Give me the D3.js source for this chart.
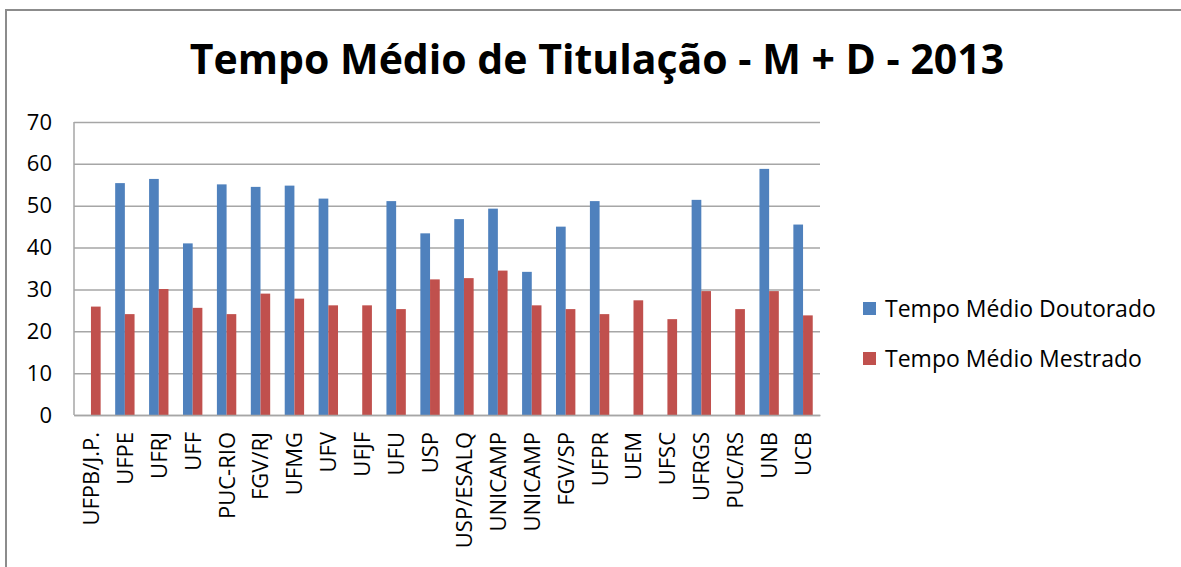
<!DOCTYPE html>
<html>
<head>
<meta charset="utf-8">
<script src="https://cdn.jsdelivr.net/npm/d3@7"></script>
<style>
  body { margin: 0; background: #fff; }
  svg { display: block; font-family: "Open Sans", sans-serif; }
</style>
</head>
<body>
<div id="chart"></div>
<script>
const categories = ["UFPB/J.P.", "UFPE", "UFRJ", "UFF", "PUC-RIO", "FGV/RJ", "UFMG", "UFV", "UFJF", "UFU", "USP",
    "USP/ESALQ", "UNICAMP", "UNICAMP", "FGV/SP", "UFPR", "UEM", "UFSC", "UFRGS", "PUC/RS", "UNB", "UCB"];
const doutorado = [null, 55.4, 56.4, 41.0, 55.1, 54.5, 54.8, 51.7, null, 51.1, 43.4,
    46.8, 49.3, 34.2, 45.0, 51.1, null, null, 51.4, null, 58.8, 45.5];
const mestrado = [25.9, 24.1, 30.1, 25.6, 24.1, 29.0, 27.8, 26.2, 26.2, 25.3, 32.4,
    32.7, 34.5, 26.2, 25.3, 24.1, 27.4, 22.9, 29.6, 25.3, 29.6, 23.8];
const seriesNames = ["Tempo Médio Doutorado", "Tempo Médio Mestrado"];
const yTicks = [0, 10, 20, 30, 40, 50, 60, 70];

const width = 1181, height = 567;
const colors = ["#4f81bd", "#c0504d"];
const plot = { left: 74, right: 820, top: 122, bottom: 415 };

const svg = d3.select("#chart").append("svg")
    .attr("width", width)
    .attr("height", height);

// outer chart frame
svg.append("path")
    .attr("d", `M6,${height + 5}V10H${width + 5}`)
    .attr("fill", "none")
    .attr("stroke", "#8c8c8c")
    .attr("stroke-width", 2);

svg.append("text")
    .attr("x", 597)
    .attr("y", 74)
    .attr("text-anchor", "middle")
    .attr("font-size", 41)
    .attr("font-weight", "bold")
    .attr("fill", "#000")
    .text("Tempo Médio de Titulação - M + D - 2013");

const x0 = d3.scaleBand()
    .domain(d3.range(categories.length))
    .range([plot.left, plot.right])
    .paddingInner(1.5 / 3.5)
    .paddingOuter(0.75 / 3.5);

const x1 = d3.scaleBand()
    .domain([0, 1])
    .range([0, x0.bandwidth()]);

const y = d3.scaleLinear()
    .domain([0, 70])
    .range([plot.bottom, plot.top]);

// gridlines + y labels
const yAxis = svg.append("g")
    .attr("transform", `translate(${plot.left},0)`)
    .call(d3.axisLeft(y).tickValues(yTicks).tickSize(-(plot.right - plot.left)).tickPadding(22));
yAxis.select(".domain").remove();
yAxis.selectAll(".tick line")
    .attr("stroke", "#a6a6a6")
    .attr("stroke-width", 1.5);
yAxis.selectAll(".tick text")
    .attr("font-size", 22)
    .attr("font-family", "Open Sans, sans-serif")
    .attr("fill", "#000");

svg.append("line")
    .attr("x1", plot.left).attr("x2", plot.left)
    .attr("y1", plot.top).attr("y2", plot.bottom)
    .attr("stroke", "#a6a6a6")
    .attr("stroke-width", 1.5);

const rows = categories.map((c, i) => ({ i, values: [doutorado[i], mestrado[i]] }));

svg.append("g")
    .selectAll("g")
    .data(rows)
    .join("g")
    .attr("transform", d => `translate(${x0(d.i)},0)`)
    .selectAll("rect")
    .data(d => d.values.map((v, s) => ({ s, v })).filter(d => d.v != null))
    .join("rect")
    .attr("x", d => x1(d.s))
    .attr("width", x1.bandwidth())
    .attr("y", d => y(d.v))
    .attr("height", d => y(0) - y(d.v))
    .attr("fill", d => colors[d.s]);

// category axis
const xAxis = svg.append("g")
    .attr("transform", `translate(0,${plot.bottom})`)
    .call(d3.axisBottom(x0).tickSize(0).tickFormat(i => categories[i]));
xAxis.select(".domain")
    .attr("stroke", "#a6a6a6")
    .attr("stroke-width", 1.5);
xAxis.selectAll(".tick text")
    .attr("font-size", 22)
    .attr("font-family", "Open Sans, sans-serif")
    .attr("fill", "#000")
    .attr("text-anchor", "end")
    .attr("transform", "rotate(-90)")
    .attr("x", -17)
    .attr("y", 0)
    .attr("dy", "0.36em");

// legend
const legend = svg.append("g")
    .selectAll("g")
    .data(seriesNames)
    .join("g")
    .attr("transform", (d, i) => `translate(863,${302 + i * 50})`);
legend.append("rect")
    .attr("width", 13)
    .attr("height", 13)
    .attr("fill", (d, i) => colors[i]);
legend.append("text")
    .attr("x", 22)
    .attr("y", 14.5)
    .attr("font-size", 23)
    .attr("fill", "#000")
    .text(d => d);
</script>
</body>
</html>
